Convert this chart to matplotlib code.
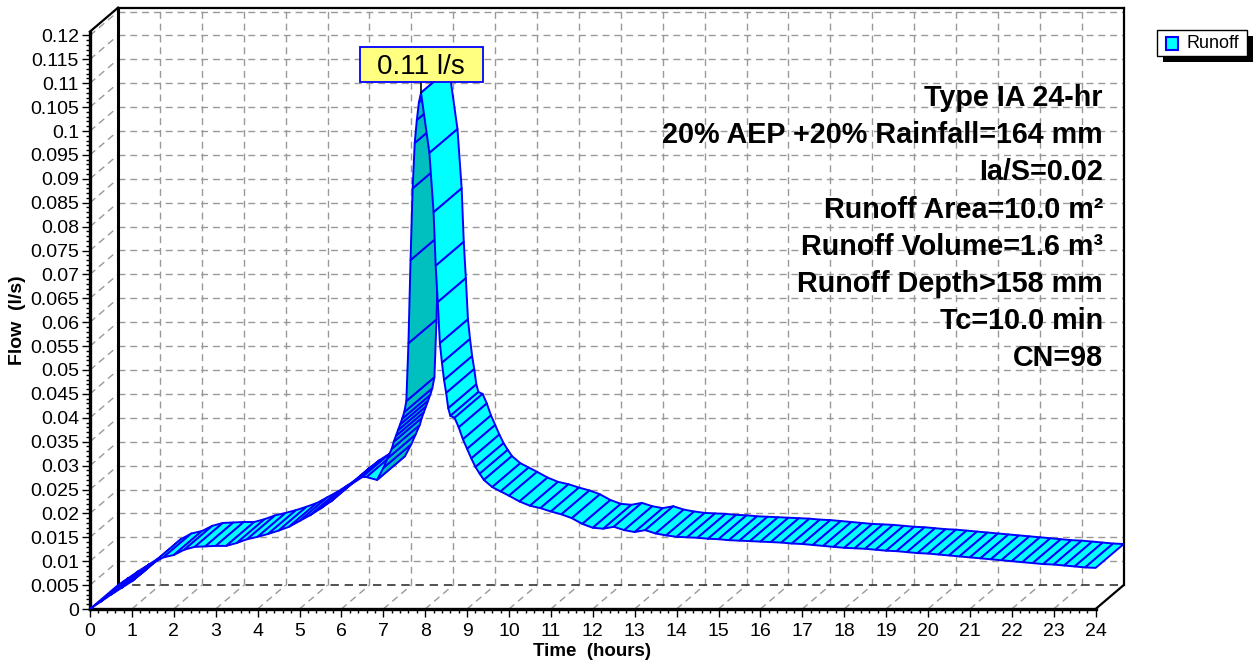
import matplotlib.pyplot as plt
from matplotlib.patches import Polygon, Rectangle

plt.rcParams['font.family'] = ['Liberation Sans', 'DejaVu Sans']

# Runoff hydrograph (front edge of the ribbon)
time_hr = [0.00, 0.25, 0.50, 0.75, 1.00, 1.25, 1.50, 1.75, 2.00, 2.25,
           2.50, 2.75, 3.00, 3.25, 3.50, 3.75, 4.00, 4.25, 4.50, 4.75,
           5.00, 5.25, 5.50, 5.75, 6.00, 6.25, 6.50, 6.60, 6.85, 7.00,
           7.10, 7.20, 7.25, 7.30, 7.35, 7.40, 7.45, 7.50, 7.55, 7.60,
           7.65, 7.70, 7.75, 7.80, 7.85, 7.90, 8.10, 8.20, 8.25, 8.30,
           8.35, 8.40, 8.45, 8.50, 8.55, 8.60, 8.70, 8.80, 8.90, 9.00,
           9.10, 9.20, 9.30, 9.40, 9.60, 9.80, 10.00, 10.25, 10.50, 10.75,
           11.00, 11.25, 11.50, 11.75, 12.00, 12.25, 12.50, 12.75, 13.00, 13.25,
           13.50, 13.75, 14.00, 14.25, 14.50, 14.75, 15.00, 15.25, 15.50, 15.75,
           16.00, 16.25, 16.50, 16.75, 17.00, 17.25, 17.50, 17.75, 18.00, 18.25,
           18.50, 18.75, 19.00, 19.25, 19.50, 19.75, 20.00, 20.25, 20.50, 20.75,
           21.00, 21.25, 21.50, 21.75, 22.00, 22.25, 22.50, 22.75, 23.00, 23.25,
           23.50, 23.75, 24.00]
flow_ls = [0.0000, 0.0015, 0.0030, 0.0044, 0.0058, 0.0076, 0.0096, 0.0108, 0.0113, 0.0124,
           0.0130, 0.0131, 0.0132, 0.0132, 0.0138, 0.0146, 0.0151, 0.0157, 0.0164, 0.0172,
           0.0184, 0.0196, 0.0210, 0.0225, 0.0245, 0.0262, 0.0276, 0.0276, 0.0270, 0.0295,
           0.0315, 0.0335, 0.0350, 0.0362, 0.0374, 0.0386, 0.0398, 0.0412, 0.0435, 0.0556,
           0.0730, 0.0880, 0.0975, 0.1023, 0.1060, 0.1080, 0.0954, 0.0830, 0.0718, 0.0642,
           0.0556, 0.0515, 0.0479, 0.0452, 0.0420, 0.0404, 0.0400, 0.0380, 0.0355, 0.0335,
           0.0315, 0.0297, 0.0283, 0.0270, 0.0255, 0.0246, 0.0237, 0.0225, 0.0216, 0.0211,
           0.0204, 0.0198, 0.0190, 0.0178, 0.0170, 0.0168, 0.0172, 0.0165, 0.0161, 0.0165,
           0.0158, 0.0154, 0.0151, 0.0150, 0.0149, 0.0147, 0.0146, 0.0144, 0.0143, 0.0142,
           0.0141, 0.0140, 0.0139, 0.0137, 0.0136, 0.0134, 0.0132, 0.0130, 0.0128, 0.0127,
           0.0126, 0.0124, 0.0122, 0.0121, 0.0119, 0.0117, 0.0116, 0.0114, 0.0112, 0.0110,
           0.0108, 0.0106, 0.0104, 0.0102, 0.0100, 0.0098, 0.0096, 0.0094, 0.0093, 0.0091,
           0.0089, 0.0087, 0.0086]

x_ticks = list(range(0, 25))
y_ticks = [0, 0.005, 0.01, 0.015, 0.02, 0.025, 0.03, 0.035, 0.04, 0.045, 0.05,
           0.055, 0.06, 0.065, 0.07, 0.075, 0.08, 0.085, 0.09, 0.095, 0.1,
           0.105, 0.11, 0.115, 0.12]
y_tick_labels = ['0', '0.005', '0.01', '0.015', '0.02', '0.025', '0.03', '0.035',
                 '0.04', '0.045', '0.05', '0.055', '0.06', '0.065', '0.07', '0.075',
                 '0.08', '0.085', '0.09', '0.095', '0.1', '0.105', '0.11', '0.115', '0.12']

info_lines = ['Type IA 24-hr', '20% AEP +20% Rainfall=164 mm', 'Ia/S=0.02',
              'Runoff Area=10.0 m²', 'Runoff Volume=1.6 m³', 'Runoff Depth>158 mm',
              'Tc=10.0 min', 'CN=98']
peak_label = '0.11 l/s'
series_name = 'Runoff'

# pseudo-3D depth offset (one grid step up, ~2/3 hour right)
DX = 0.67
DY = 0.005
YTOP = 0.1208
W, H = 1257, 664
PX_HR = 41.9
PX_Q = 4780.0

CYAN = '#00FFFF'
TEAL = '#00BFBF'
BLUE = '#0000FF'
GRID = '#999999'

fig = plt.figure(figsize=(W / 100, H / 100), dpi=100)
ax_w = (24 + DX) * PX_HR
ax_h = (YTOP + DY) * PX_Q
ax = fig.add_axes([90 / W, 55 / H, ax_w / W, ax_h / H])
ax.set_xlim(0, 24 + DX)
ax.set_ylim(0, YTOP + DY)
for s in ax.spines.values():
    s.set_visible(False)

dash = (0, (5, 3.5))
# back wall grid, floor and side wall
for q in y_ticks[1:]:
    ax.plot([DX, 24 + DX], [q + DY, q + DY], color=GRID, lw=1, ls=dash, zorder=1)
    ax.plot([0, DX], [q, q + DY], color=GRID, lw=1, ls=dash, zorder=1)
for t in x_ticks[1:-1]:
    ax.plot([t + DX, t + DX], [DY, YTOP + DY], color=GRID, lw=1, ls=dash, zorder=1)
    ax.plot([t, t + DX], [0, DY], color=GRID, lw=1, ls=dash, zorder=1)
ax.plot([DX, 24 + DX], [DY, DY], color='#333333', lw=1.2, ls=dash, zorder=1)

# frame
k = dict(color='black', clip_on=False, solid_capstyle='projecting', zorder=2)
ax.plot([DX, DX], [DY, YTOP + DY], lw=2.2, **k)
ax.plot([DX, 24 + DX], [YTOP + DY, YTOP + DY], lw=1.6, **k)
ax.plot([24 + DX, 24 + DX], [DY, YTOP + DY], lw=1.6, **k)
ax.plot([0, DX], [YTOP, YTOP + DY], lw=1.6, **k)
ax.plot([24, 24 + DX], [0, DY], lw=1.6, **k)
ax.plot([0, 0], [0, YTOP], lw=2.4, **k)
ax.plot([0, 24], [0, 0], lw=2.4, **k)

# ribbon: one quad per segment, darker where the underside faces us
for i in range(len(time_hr) - 1):
    t0, t1 = time_hr[i], time_hr[i + 1]
    q0, q1 = flow_ls[i], flow_ls[i + 1]
    pts = [(t0, q0), (t1, q1), (t1 + DX, q1 + DY), (t0 + DX, q0 + DY)]
    sx = (t1 - t0) * PX_HR
    sy = (q1 - q0) * PX_Q
    cross = sx * DY * PX_Q - sy * DX * PX_HR
    face = CYAN if cross >= 0 else TEAL
    ax.add_patch(Polygon(pts, closed=True, facecolor=face, edgecolor=BLUE,
                         lw=1.4, joinstyle='round', zorder=3 + i * 0.001))

# peak label
ip = flow_ls.index(max(flow_ls))
tp, qp = time_hr[ip], flow_ls[ip]
box_w = 123 / PX_HR
box_h = 35 / PX_Q
box_y = qp + 11 / PX_Q
ax.plot([tp, tp], [qp, box_y], color='black', lw=1.2, zorder=5)
ax.add_patch(Rectangle((tp - box_w / 2, box_y), box_w, box_h, facecolor='#FFFF80',
                       edgecolor=BLUE, lw=1.3, zorder=6))
ax.text(tp, box_y + box_h / 2, peak_label, ha='center', va='center_baseline',
        fontsize=20, zorder=7)

# ticks
ax.set_xticks(x_ticks)
ax.set_xticklabels([str(v) for v in x_ticks])
ax.set_xticks([i * 0.2 for i in range(121)], minor=True)
ax.set_yticks(y_ticks)
ax.set_yticklabels(y_tick_labels)
ax.set_yticks([i * 0.001 for i in range(121)], minor=True)
ax.tick_params(which='major', direction='out', length=6, width=1, labelsize=14)
ax.tick_params(axis='x', which='major', pad=4)
ax.tick_params(axis='y', which='major', pad=2)
ax.tick_params(which='minor', direction='out', length=3, width=1)

fig.text(592 / W, 1 - 651 / H, 'Time  (hours)', ha='center', va='center',
         fontsize=13.5, fontweight='bold')
fig.text(18 / W, 1 - 320 / H, 'Flow  (l/s)', ha='center', va='center',
         fontsize=14, fontweight='bold', rotation=90)

# info block
for j, line in enumerate(info_lines):
    fig.text(1103 / W, 1 - (98 + j * 37.2) / H, line, ha='right', va='center',
             fontsize=20.7, fontweight='bold')

# legend
def px_rect(x, y, w, h, **kw):
    fig.add_artist(Rectangle((x / W, 1 - (y + h) / H), w / W, h / H,
                             transform=fig.transFigure, **kw))

px_rect(1163, 36, 90, 26, facecolor='black', edgecolor='none')
px_rect(1157, 30, 90, 26, facecolor='white', edgecolor='black', lw=1)
px_rect(1166, 37, 12, 13, facecolor=CYAN, edgecolor=BLUE, lw=1.5)
fig.text(1186 / W, 1 - 44 / H, series_name, ha='left', va='center', fontsize=13)

fig.savefig('out.png', dpi=100)
